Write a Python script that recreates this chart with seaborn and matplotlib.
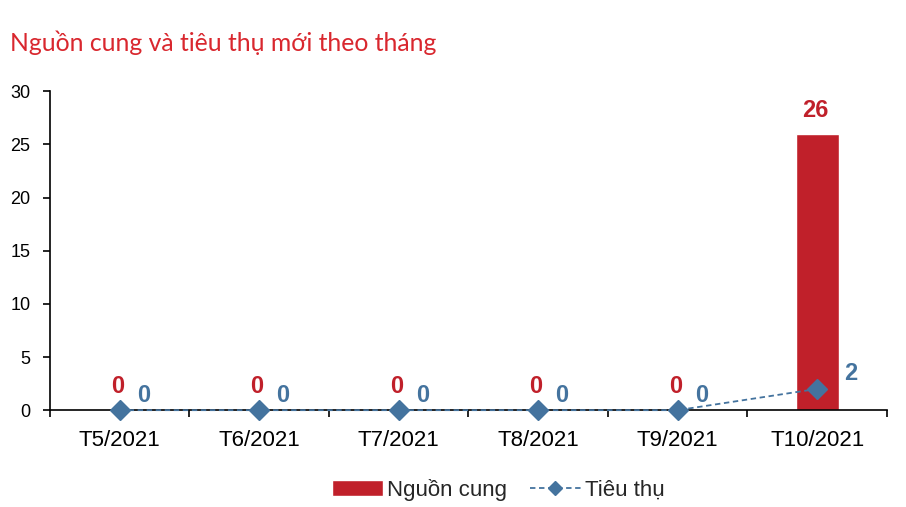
import matplotlib
matplotlib.use('Agg')
import numpy as np
import pandas as pd
import seaborn as sns
import matplotlib.pyplot as plt
from matplotlib.ticker import FixedLocator

sns.set_theme(style='white')
plt.rcParams['font.family'] = ['Liberation Sans', 'DejaVu Sans']

# data
months = ['T5/2021', 'T6/2021', 'T7/2021', 'T8/2021', 'T9/2021', 'T10/2021']
supply = [0, 0, 0, 0, 0, 26]
sales = [0, 0, 0, 0, 0, 2]
y_ticks = [0, 5, 10, 15, 20, 25, 30]

red = '#C0202A'
blue = '#44739E'

df = pd.DataFrame({'thang': months, 'nguon_cung': supply, 'tieu_thu': sales})

fig = plt.figure(figsize=(9.06, 5.07), dpi=100)
ax = fig.add_axes([0.055, 0.191, 0.924, 0.629])

sns.barplot(data=df, x='thang', y='nguon_cung', color=red, width=0.31,
            saturation=1, ax=ax, label='Nguồn cung', zorder=2)
sns.pointplot(data=df, x='thang', y='tieu_thu', color=blue, markers='D',
              linestyles='--', errorbar=None, ax=ax, label='Tiêu thụ',
              markersize=10, linewidth=1.3)
for ln in ax.lines:
    ln.set_zorder(4)
    ln.set_clip_on(False)
    ln.set_dashes([3, 2])

# so lieu tren cot / diem
for i, v in enumerate(supply):
    ax.annotate(str(v), (i, v), xytext=(-1.5, 17), textcoords='offset points',
                ha='center', va='center', color=red, fontsize=17,
                fontweight='bold')
for i, v in enumerate(sales):
    dx, dy = (17, 10.5) if v == 0 else (24.5, 11)
    ax.annotate(str(v), (i, v), xytext=(dx, dy), textcoords='offset points',
                ha='center', va='center', color=blue, fontsize=17,
                fontweight='bold')

ax.set_ylim(0, 30)
ax.set_xlim(-0.5, len(months) - 0.5)
ax.set_yticks(y_ticks)
ax.set_xlabel('')
ax.set_ylabel('')
ax.xaxis.set_minor_locator(FixedLocator(np.arange(-0.5, len(months), 1.0)))
ax.tick_params(axis='x', which='major', length=0, pad=14, labelsize=16,
               colors='black')
ax.tick_params(axis='x', which='minor', bottom=True, length=5, width=1.2,
               direction='out', color='black')
ax.tick_params(axis='y', left=True, length=5, width=1.2, direction='out',
               pad=9, labelsize=13, colors='black')

sns.despine(ax=ax)
for s in ['left', 'bottom']:
    ax.spines[s].set_color('black')
    ax.spines[s].set_linewidth(1.2)
ax.grid(False)

fig.text(0.011, 1 - 43 / 507, 'Nguồn cung và tiêu thụ mới theo tháng',
         fontsize=17.8, color='#D9272E', family=['Lato', 'DejaVu Sans'],
         va='center', ha='left')

handles, labels = ax.get_legend_handles_labels()
if ax.get_legend() is not None:
    ax.get_legend().remove()
order = [labels.index('Nguồn cung'), labels.index('Tiêu thụ')]
fig.legend([handles[k] for k in order], [labels[k] for k in order],
           loc='center', bbox_to_anchor=(0.55, 0.034),
           ncol=2, frameon=False, fontsize=16, handlelength=2.3,
           handletextpad=0.2, columnspacing=1.0, markerscale=0.75)

fig.savefig('out.png', dpi=100)
